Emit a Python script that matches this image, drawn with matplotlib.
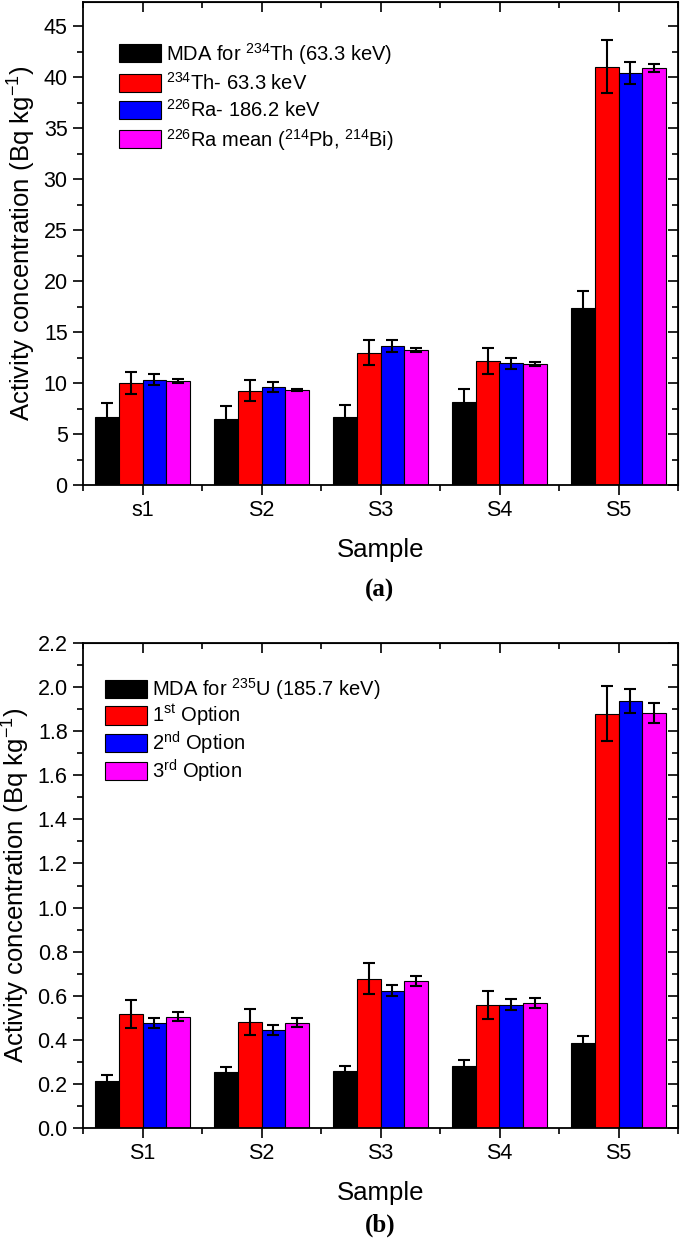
import numpy as np
import matplotlib
matplotlib.use("Agg")
import matplotlib.pyplot as plt
from matplotlib.ticker import MultipleLocator, FormatStrFormatter

plt.rcParams["font.family"] = ["Liberation Sans", "DejaVu Sans"]
plt.rcParams["mathtext.fontset"] = "custom"
plt.rcParams["mathtext.rm"] = "Liberation Sans"
plt.rcParams["mathtext.it"] = "Liberation Sans:italic"
plt.rcParams["mathtext.bf"] = "Liberation Sans:bold"

# panel (a)
samples_a = ["s1", "S2", "S3", "S4", "S5"]
mda_th = [6.7, 6.5, 6.65, 8.1, 17.4]
mda_th_err = [1.3, 1.3, 1.25, 1.35, 1.65]
th234 = [10.0, 9.25, 13.0, 12.15, 41.05]
th234_err = [1.1, 1.05, 1.25, 1.25, 2.6]
ra186 = [10.35, 9.6, 13.65, 11.95, 40.45]
ra186_err = [0.5, 0.47, 0.55, 0.55, 1.1]
ra_mean = [10.2, 9.35, 13.25, 11.9, 40.9]
ra_mean_err = [0.18, 0.12, 0.15, 0.18, 0.38]
labels_a = ["MDA for $^{234}$Th (63.3 keV)", "$^{234}$Th- 63.3 keV",
            "$^{226}$Ra- 186.2 keV", "$^{226}$Ra mean ($^{214}$Pb, $^{214}$Bi)"]

# panel (b)
samples_b = ["S1", "S2", "S3", "S4", "S5"]
mda_u = [0.211, 0.252, 0.257, 0.283, 0.387]
mda_u_err = [0.028, 0.026, 0.024, 0.027, 0.03]
opt1 = [0.517, 0.481, 0.677, 0.558, 1.88]
opt1_err = [0.063, 0.06, 0.07, 0.063, 0.125]
opt2 = [0.478, 0.446, 0.623, 0.558, 1.938]
opt2_err = [0.023, 0.022, 0.026, 0.025, 0.054]
opt3 = [0.505, 0.478, 0.668, 0.567, 1.883]
opt3_err = [0.02, 0.02, 0.023, 0.023, 0.044]
labels_b = ["MDA for $^{235}$U (185.7 keV)", "1$^{\\mathrm{st}}$ Option",
            "2$^{\\mathrm{nd}}$ Option", "3$^{\\mathrm{rd}}$ Option"]

colors = ["black", "#ff0000", "#0000ff", "#ff00ff"]
W, H = 685, 1245


def panel(ax, samples, series, errs, labels, ymax, ymaj, ymin, fmt, leg_anchor, leg_space):
    x = np.arange(1, len(samples) + 1)
    width = 0.2
    for i, (vals, err) in enumerate(zip(series, errs)):
        ax.bar(x + (i - 1.5) * width, vals, width, yerr=err, color=colors[i],
               edgecolor="black", linewidth=0.8, label=labels[i],
               error_kw=dict(ecolor="black", elinewidth=1.5, capsize=4, capthick=1.5))
    ax.set_xlim(0.5, len(samples) + 0.5)
    ax.set_ylim(0, ymax)
    ax.set_xticks(x)
    ax.set_xticklabels(samples)
    ax.xaxis.set_minor_locator(MultipleLocator(0.5))
    ax.yaxis.set_major_locator(MultipleLocator(ymaj))
    ax.yaxis.set_minor_locator(MultipleLocator(ymin))
    ax.yaxis.set_major_formatter(FormatStrFormatter(fmt))
    ax.tick_params(which="major", direction="out", length=7, width=1.2, labelsize=15.5, pad=4)
    ax.tick_params(which="minor", direction="out", length=4, width=1.2)
    for s in ax.spines.values():
        s.set_linewidth(1.3)

    # Origin style: ticks inside on top and right
    top = ax.secondary_xaxis("top")
    top.set_xticks(x)
    top.xaxis.set_minor_locator(MultipleLocator(0.5))
    top.tick_params(which="major", direction="in", length=7, width=1.2, labeltop=False)
    top.tick_params(which="minor", direction="in", length=4, width=1.2)
    right = ax.secondary_yaxis("right")
    right.yaxis.set_major_locator(MultipleLocator(ymaj))
    right.yaxis.set_minor_locator(MultipleLocator(ymin))
    right.tick_params(which="major", direction="in", length=7, width=1.2, labelright=False)
    right.tick_params(which="minor", direction="in", length=4, width=1.2)

    ax.set_xlabel("Sample", fontsize=18.5, labelpad=12)
    ax.set_ylabel("Activity concentration (Bq kg$^{-1}$)", fontsize=18.5, labelpad=4)
    ax.legend(loc="upper left", bbox_to_anchor=leg_anchor, frameon=False, fontsize=14.5,
              handlelength=2.1, handleheight=1.0, labelspacing=leg_space, handletextpad=0.25,
              borderpad=0, borderaxespad=0)


def main():
    fig = plt.figure(figsize=(W / 100, H / 100), dpi=100)
    ax1 = fig.add_axes([83 / W, 1 - 485 / H, 595 / W, 483 / H])
    ax2 = fig.add_axes([83 / W, 1 - 1128 / H, 595 / W, 485 / H])

    panel(ax1, samples_a, [mda_th, th234, ra186, ra_mean],
          [mda_th_err, th234_err, ra186_err, ra_mean_err], labels_a,
          47.4, 5, 2.5, "%d", (0.06, 0.92), 0.27)
    panel(ax2, samples_b, [mda_u, opt1, opt2, opt3],
          [mda_u_err, opt1_err, opt2_err, opt3_err], labels_b,
          2.2, 0.2, 0.1, "%.1f", (0.037, 0.932), 0.05)

    fig.text(380 / W, 1 - 590 / H, "(a)", ha="center", va="center", fontsize=18,
             fontweight="bold", family="Liberation Serif")
    fig.text(380 / W, 1 - 1225 / H, "(b)", ha="center", va="center", fontsize=18,
             fontweight="bold", family="Liberation Serif")

    fig.savefig("out.png", dpi=100)


if __name__ == "__main__":
    main()
